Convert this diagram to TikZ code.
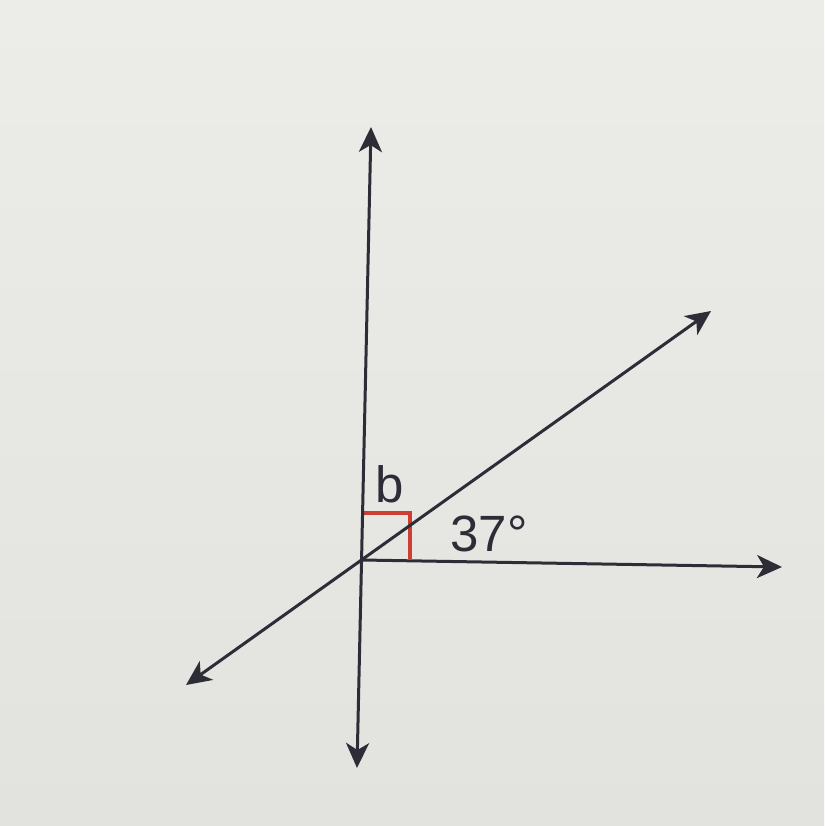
\documentclass[tikz,border=0pt]{standalone}
\usepackage{fontspec}
\setmainfont{Liberation Sans}
\usetikzlibrary{arrows.meta}
\definecolor{bgc}{RGB}{226,226,222}
\definecolor{bgtop}{RGB}{236,236,233}
\definecolor{linec}{RGB}{45,45,55}
\definecolor{redc}{RGB}{205,62,52}
\tikzset{
  ray/.style={draw=linec, line width=3pt, -{Stealth[length=25pt,width=23pt,inset=7pt]}},
  line2/.style={draw=linec, line width=3pt, {Stealth[length=25pt,width=23pt,inset=7pt]}-{Stealth[length=25pt,width=23pt,inset=7pt]}},
  lab/.style={text=linec, inner sep=0pt, font=\fontsize{51}{60}\selectfont}
}
\begin{document}
\begin{tikzpicture}[x=1pt,y=-1pt]
\useasboundingbox (0,0) rectangle (824,826);
\shade[top color=bgtop, bottom color=bgc] (0,0) rectangle (824,826);
\coordinate (O) at (362,560);
\coordinate (T) at (371,127);
\coordinate (B) at (357,768);
\coordinate (R) at (782,567);
\coordinate (UR) at (711,311);
\coordinate (LL) at (186,685);
\coordinate (s1) at (363,513);
\coordinate (s2) at (410,513);
\coordinate (s3) at (410,559);
\draw[redc, line width=3.2pt] (s1) -- (s2) -- (s3);
\draw[line2] (B) -- (T);
\draw[line2] (LL) -- (UR);
\draw[ray] (O) -- (R);
\node[lab] (b) at (390,484) {b};
\node[lab] (a) at (489,534) {37°};
\end{tikzpicture}
\end{document}
